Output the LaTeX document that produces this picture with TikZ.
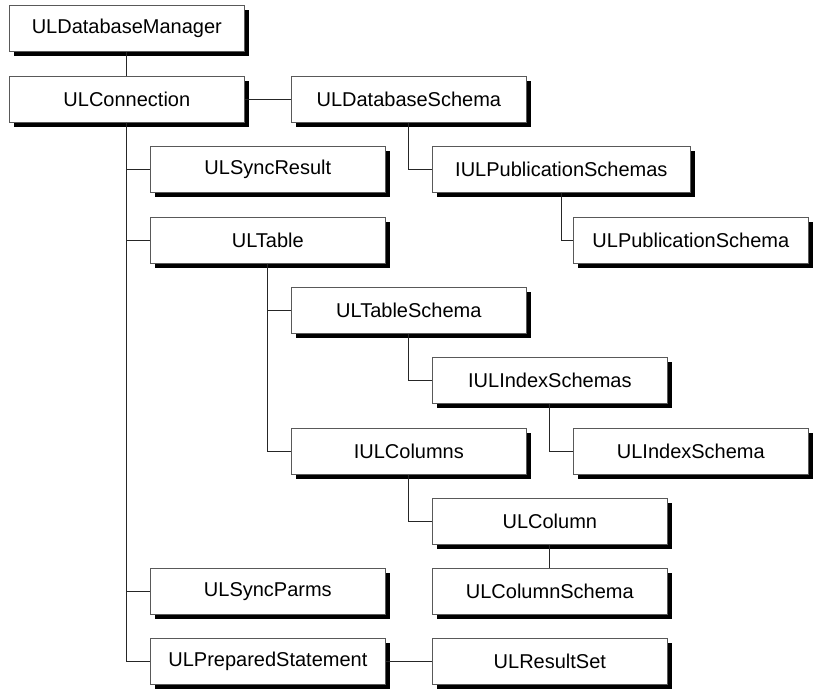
\documentclass[tikz,border=0pt]{standalone}
\usepackage{fontspec}
\setmainfont{Liberation Sans}
\usepackage{tikz}
\usetikzlibrary{shadows,positioning}

\begin{document}
\begin{tikzpicture}[x=1pt,y=-1pt]
	\tikzstyle{cls}=[draw=black!65,line width=0.7pt,fill=white,anchor=north west,minimum width=235pt,minimum height=46pt,inner sep=0pt,font=\fontsize{20}{24}\selectfont,drop shadow={shadow xshift=5pt,shadow yshift=-5pt,fill=black,opacity=1}]
	\tikzstyle{link}=[draw=black!85,line width=0.8pt]
	\useasboundingbox (0,0) rectangle (813,689);
	\node[cls] (mgr) at (9,5) {ULDatabaseManager};
	\node[cls] (conn) at (9,76) {ULConnection};
	\node[cls] (dbs) at (291,76) {ULDatabaseSchema};
	\node[cls] (sync) at (150,146) {ULSyncResult};
	\node[cls,minimum width=258pt] (ipub) at (432,146) {IULPublicationSchemas};
	\node[cls] (tbl) at (150,217) {ULTable};
	\node[cls] (pub) at (573,217) {ULPublicationSchema};
	\node[cls] (tsch) at (291,287) {ULTableSchema};
	\node[cls] (iidx) at (432,357) {IULIndexSchemas};
	\node[cls] (icol) at (291,428) {IULColumns};
	\node[cls] (idx) at (573,428) {ULIndexSchema};
	\node[cls] (col) at (432,498) {ULColumn};
	\node[cls] (parms) at (150,568) {ULSyncParms};
	\node[cls] (colsch) at (432,568) {ULColumnSchema};
	\node[cls] (prep) at (150,638) {ULPreparedStatement};
	\node[cls] (rs) at (432,638) {ULResultSet};
	% connectors
	\draw[link] (mgr) -- (conn);
	\draw[link] (conn) -- (dbs);
	\draw[link] (conn.south) |- (sync.west);
	\draw[link] (conn.south) |- (tbl.west);
	\draw[link] (conn.south) |- (parms.west);
	\draw[link] (conn.south) |- (prep.west);
	\draw[link] (dbs.south) |- (ipub.west);
	\draw[link] (ipub.south) |- (pub.west);
	\draw[link] (tbl.south) |- (tsch.west);
	\draw[link] (tbl.south) |- (icol.west);
	\draw[link] (tsch.south) |- (iidx.west);
	\draw[link] (iidx.south) |- (idx.west);
	\draw[link] (icol.south) |- (col.west);
	\draw[link] (col) -- (colsch);
	\draw[link] (prep) -- (rs);
\end{tikzpicture}
\end{document}
